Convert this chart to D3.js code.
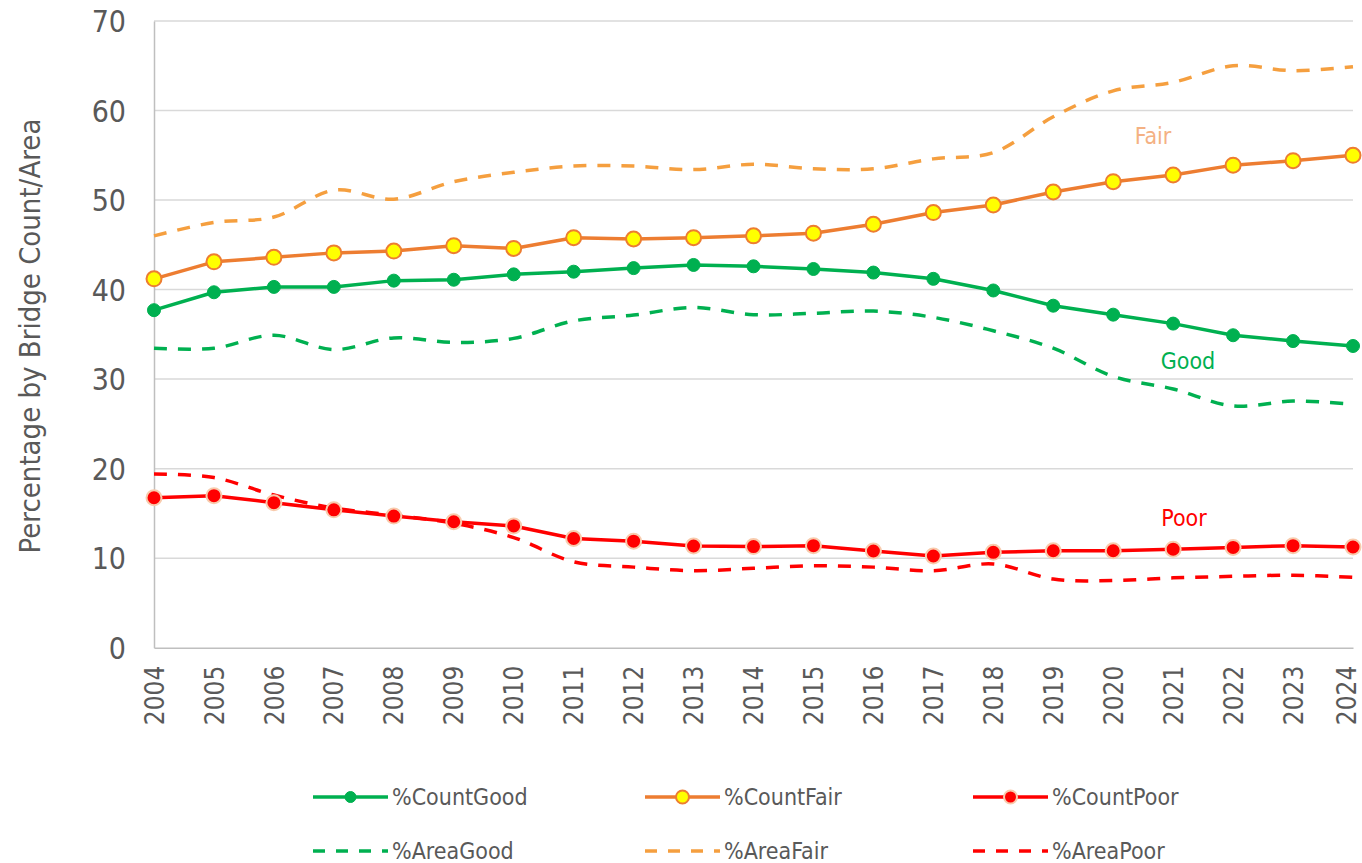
<!DOCTYPE html>
<html><head><meta charset="utf-8">
<script src="https://cdn.jsdelivr.net/npm/d3@7"></script>
<style>body{margin:0;background:#fff}svg{display:block}</style>
</head><body>
<script>
const years = [2004,2005,2006,2007,2008,2009,2010,2011,2012,2013,2014,2015,2016,2017,2018,2019,2020,2021,2022,2023,2024];
const countGood = [37.7,39.7,40.3,40.3,41.0,41.1,41.7,42.0,42.4,42.75,42.6,42.3,41.9,41.2,39.9,38.2,37.2,36.2,34.9,34.25,33.7];
const countFair = [41.2,43.1,43.6,44.1,44.3,44.9,44.6,45.8,45.65,45.8,46.0,46.3,47.3,48.6,49.45,50.9,52.05,52.8,53.9,54.4,55.0];
const countPoor = [16.75,16.98,16.2,15.4,14.7,14.07,13.6,12.2,11.9,11.36,11.3,11.4,10.8,10.24,10.65,10.83,10.83,11.0,11.2,11.4,11.25];
const areaGood = [33.45,33.45,34.9,33.3,34.6,34.1,34.55,36.5,37.15,38.0,37.2,37.35,37.6,36.9,35.4,33.45,30.3,28.9,27.0,27.55,27.2];
const areaFair = [46.0,47.5,48.1,51.1,50.1,52.05,53.1,53.8,53.8,53.4,54.0,53.5,53.5,54.6,55.3,59.3,62.2,63.15,65.0,64.45,64.9];
const areaPoor = [19.4,19.0,17.05,15.6,14.8,13.9,12.3,9.6,9.0,8.6,8.87,9.16,9.0,8.6,9.35,7.67,7.5,7.8,7.97,8.1,7.86];
const yTicks = [0,10,20,30,40,50,60,70];
const yTitle = "Percentage by Bridge Count/Area";

const W = 1362, H = 863;
const FONT = "'DejaVu Sans Condensed','DejaVu Sans',sans-serif";
const svg = d3.select("body").append("svg").attr("width", W).attr("height", H);

const x = d3.scaleLinear().domain([2004, 2024]).range([154, 1353]);
const y = d3.scaleLinear().domain([0, 70]).range([647.7, 21]);

// gridlines
svg.append("g").selectAll("line").data(yTicks.filter(d => d > 0)).join("line")
  .attr("x1", x(2004)).attr("x2", x(2024))
  .attr("y1", d => y(d)).attr("y2", d => y(d))
  .attr("stroke", "#D9D9D9").attr("stroke-width", 1.5);

// axes
const yAxis = d3.axisLeft(y).tickValues(yTicks).tickSize(0).tickPadding(28);
const gy = svg.append("g").attr("transform", `translate(${x(2004)},0)`).call(yAxis);
gy.select(".domain").attr("stroke", "#BFBFBF").attr("stroke-width", 1.5);
gy.selectAll("text").attr("font-family", FONT).attr("font-size", 30).attr("fill", "#595959").attr("dy", "0.35em");

const xAxis = d3.axisBottom(x).tickValues(years).tickFormat(d3.format("d")).tickSize(0);
const gx = svg.append("g").attr("transform", `translate(0,${y(0)})`).call(xAxis);
gx.select(".domain").attr("stroke", "#BFBFBF").attr("stroke-width", 1.5);
gx.selectAll("text").attr("font-family", FONT).attr("font-size", 26).attr("fill", "#595959")
  .attr("transform", "rotate(-90)").attr("text-anchor", "end")
  .attr("x", -18).attr("y", d => d === 2024 ? -7 : 0).attr("dy", "0.35em");

// y title
svg.append("text").attr("transform", `translate(40,${336}) rotate(-90)`)
  .attr("text-anchor", "middle").attr("font-family", FONT).attr("font-size", 29)
  .attr("fill", "#595959").text(yTitle);

const series = [
  {name: "%AreaGood", data: areaGood, color: "#00B050", dash: "13,11", smooth: true},
  {name: "%AreaFair", data: areaFair, color: "#F59F3F", dash: "13,11", smooth: true},
  {name: "%AreaPoor", data: areaPoor, color: "#FF0000", dash: "13,11", smooth: true},
  {name: "%CountGood", data: countGood, color: "#00B050", marker: {r: 6.5, fill: "#00B050", stroke: "#00B050", sw: 1}},
  {name: "%CountFair", data: countFair, color: "#ED7D31", marker: {r: 7.5, fill: "#FFFF00", stroke: "#ED7D31", sw: 2}},
  {name: "%CountPoor", data: countPoor, color: "#FF0000", marker: {r: 7.5, fill: "#FF0000", stroke: "#F8CBAD", sw: 2}}
];

series.forEach(s => {
  const line = d3.line().x((d, i) => x(years[i])).y(d => y(d))
    .curve(s.smooth ? d3.curveCatmullRom.alpha(0.5) : d3.curveLinear);
  svg.append("path").datum(s.data).attr("d", line)
    .attr("fill", "none").attr("stroke", s.color).attr("stroke-width", 3.5)
    .attr("stroke-linejoin", "round")
    .attr("stroke-dasharray", s.dash || null);
  if (s.marker) {
    svg.append("g").selectAll("circle").data(s.data).join("circle")
      .attr("cx", (d, i) => x(years[i])).attr("cy", d => y(d)).attr("r", s.marker.r)
      .attr("fill", s.marker.fill).attr("stroke", s.marker.stroke).attr("stroke-width", s.marker.sw);
  }
});

// annotations
const notes = [
  {t: "Fair", x: 1153, y: 136, c: "#F4B183"},
  {t: "Good", x: 1188, y: 361, c: "#00B050"},
  {t: "Poor", x: 1184, y: 518, c: "#FF0000"}
];
svg.append("g").selectAll("text").data(notes).join("text")
  .attr("x", d => d.x).attr("y", d => d.y).attr("dy", "0.35em").attr("text-anchor", "middle")
  .attr("font-family", FONT).attr("font-size", 23).attr("fill", d => d.c).text(d => d.t);

// legend
const legendOrder = ["%CountGood","%CountFair","%CountPoor","%AreaGood","%AreaFair","%AreaPoor"];
const colX = [313, 645, 973];
const rowY = [797, 851];
legendOrder.forEach((n, k) => {
  const s = series.find(q => q.name === n);
  const lx = colX[k % 3], ly = rowY[Math.floor(k / 3)];
  const g = svg.append("g");
  g.append("line").attr("x1", lx).attr("x2", lx + 75).attr("y1", ly).attr("y2", ly)
    .attr("stroke", s.color).attr("stroke-width", 3.5).attr("stroke-dasharray", s.dash ? "12,11" : null);
  if (s.marker) {
    g.append("circle").attr("cx", lx + 37.5).attr("cy", ly).attr("r", s.marker.r - 1)
      .attr("fill", s.marker.fill).attr("stroke", s.marker.stroke).attr("stroke-width", s.marker.sw);
  }
  g.append("text").attr("x", lx + 79).attr("y", ly).attr("dy", "0.35em")
    .attr("font-family", FONT).attr("font-size", 23).attr("fill", "#595959").text(n);
});
</script>
</body></html>
